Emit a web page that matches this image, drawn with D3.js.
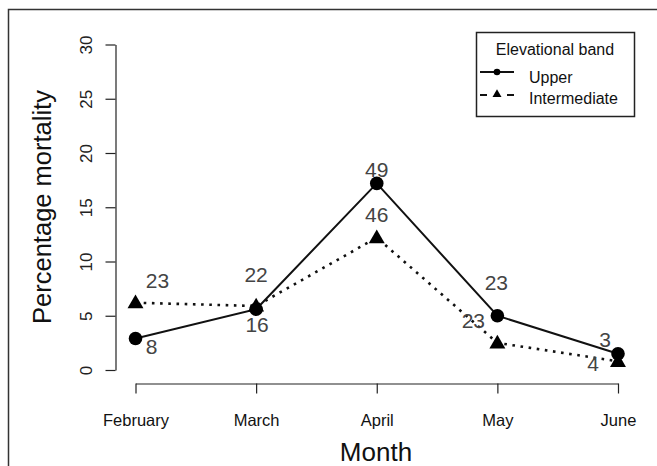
<!DOCTYPE html>
<html>
<head>
<meta charset="utf-8">
<script src="https://cdn.jsdelivr.net/npm/d3@7"></script>
<style>
  body { margin: 0; background: #fff; }
  svg { display: block; font-family: "Liberation Sans", Arial, sans-serif; }
</style>
</head>
<body>
<svg id="chart" width="657" height="466"></svg>
<script>

var months = ["February", "March", "April", "May", "June"]
var upper = [2.9, 5.6, 17.2, 5.0, 1.5]
var intermediate = [6.2, 5.9, 12.2, 2.5, 0.8]
var upperN = [8, 16, 49, 23, 3]
var intermediateN = [23, 22, 46, 23, 4]
var yTicks = [0, 5, 10, 15, 20, 25, 30]

var svg = d3.select("#chart")

// figure frame (left and top edges only are visible)
svg.append("path")
	.attr("d", "M8.5,470 L8.5,9.5 L660,9.5")
	.attr("fill", "none")
	.attr("stroke", "#333")
	.attr("stroke-width", 1.5)

var x = d3.scalePoint().domain(months).range([135.5, 618])
var y = d3.scaleLinear().domain([0, 30]).range([370, 44.5])

// y axis
var yAxis = svg.append("g")
	.attr("transform", "translate(115.5,0)")
	.call(d3.axisLeft(y).tickValues(yTicks).tickSize(10).tickSizeOuter(0))
yAxis.select(".domain").attr("stroke", "#222").attr("stroke-width", 1.2)
yAxis.selectAll(".tick line").attr("stroke", "#222").attr("stroke-width", 1.2)
yAxis.selectAll(".tick text")
	.attr("x", 0).attr("y", 0).attr("dy", "0.35em")
	.attr("transform", "translate(-29,0) rotate(-90)")
	.style("text-anchor", "middle")
	.style("font-size", "17px")
	.attr("fill", "#222")

// x axis
var xAxis = svg.append("g")
	.attr("transform", "translate(0,383.5)")
	.call(d3.axisBottom(x).tickSize(10).tickSizeOuter(0))
xAxis.select(".domain").attr("stroke", "#222").attr("stroke-width", 1.2)
xAxis.selectAll(".tick line").attr("stroke", "#222").attr("stroke-width", 1.2)
xAxis.selectAll(".tick text")
	.attr("y", 0).attr("dy", "0.35em")
	.attr("transform", "translate(0,37)")
	.style("font-size", "16.5px")
	.attr("fill", "#111")

// axis titles
svg.append("text")
	.attr("x", 376).attr("y", 452).attr("dy", "0.35em")
	.attr("text-anchor", "middle")
	.style("font-size", "26px")
	.attr("fill", "#111")
	.text("Month")

svg.append("text")
	.attr("transform", "translate(42,207) rotate(-90)")
	.attr("dy", "0.35em")
	.attr("text-anchor", "middle")
	.style("font-size", "25.5px")
	.attr("fill", "#111")
	.text("Percentage mortality")

// lines
var line = d3.line()
	.x(function (d, i) { return x(months[i]); })
	.y(function (d) { return y(d); })

svg.append("path")
	.datum(intermediate)
	.attr("d", line)
	.attr("fill", "none")
	.attr("stroke", "#111")
	.attr("stroke-width", 2.6)
	.attr("stroke-dasharray", "2.6,5.6")

svg.append("path")
	.datum(upper)
	.attr("d", line)
	.attr("fill", "none")
	.attr("stroke", "#111")
	.attr("stroke-width", 2)

var tri = d3.symbol().type(d3.symbolTriangle).size(110)

svg.selectAll(".pt-up")
	.data(upper)
	.enter()
	.append("circle")
	.attr("cx", function (d, i) { return x(months[i]); })
	.attr("cy", function (d) { return y(d); })
	.attr("r", 6.8)
	.attr("fill", "#000")

svg.selectAll(".pt-int")
	.data(intermediate)
	.enter()
	.append("path")
	.attr("d", tri)
	.attr("transform", function (d, i) { return "translate(" + x(months[i]) + "," + (y(d) + 1) + ")"; })
	.attr("fill", "#000")

// sample size labels, nudged by hand like the original
var upOff = [[16, 8], [1, 15], [0, -14], [-1, -33], [-13, -14]]
var intOff = [[22, -22], [0, -31], [0, -23], [-24, -22], [-25, 2]]

svg.selectAll(".lab-up")
	.data(upperN)
	.enter()
	.append("text")
	.attr("x", function (d, i) { return x(months[i]) + upOff[i][0]; })
	.attr("y", function (d, i) { return y(upper[i]) + upOff[i][1]; })
	.attr("dy", "0.35em")
	.attr("text-anchor", "middle")
	.style("font-size", "21px")
	.attr("fill", "#444")
	.text(function (d) { return d; })

svg.selectAll(".lab-int")
	.data(intermediateN)
	.enter()
	.append("text")
	.attr("x", function (d, i) { return x(months[i]) + intOff[i][0]; })
	.attr("y", function (d, i) { return y(intermediate[i]) + intOff[i][1]; })
	.attr("dy", "0.35em")
	.attr("text-anchor", "middle")
	.style("font-size", "21px")
	.attr("fill", "#444")
	.text(function (d) { return d; })

// legend
var lg = svg.append("g")
lg.append("rect")
	.attr("x", 476.5).attr("y", 32.5).attr("width", 158).attr("height", 84)
	.attr("fill", "#fff").attr("stroke", "#222").attr("stroke-width", 1.5)
lg.append("text")
	.attr("x", 555).attr("y", 49).attr("dy", "0.35em")
	.attr("text-anchor", "middle")
	.style("font-size", "16px").attr("fill", "#111")
	.text("Elevational band")

lg.append("line")
	.attr("x1", 480).attr("x2", 514).attr("y1", 72).attr("y2", 72)
	.attr("stroke", "#111").attr("stroke-width", 2)
lg.append("circle").attr("cx", 497).attr("cy", 72).attr("r", 3.3).attr("fill", "#000")
lg.append("text")
	.attr("x", 529).attr("y", 77).attr("dy", "0.35em")
	.style("font-size", "16px").attr("fill", "#111")
	.text("Upper")

lg.append("line")
	.attr("x1", 480).attr("x2", 514).attr("y1", 95).attr("y2", 95)
	.attr("stroke", "#111").attr("stroke-width", 2)
	.attr("stroke-dasharray", "7,20,7")
lg.append("path")
	.attr("d", d3.symbol().type(d3.symbolTriangle).size(35))
	.attr("transform", "translate(497,94.5)")
	.attr("fill", "#000")
lg.append("text")
	.attr("x", 529).attr("y", 98).attr("dy", "0.35em")
	.style("font-size", "16px").attr("fill", "#111")
	.text("Intermediate")

</script>
</body>
</html>
